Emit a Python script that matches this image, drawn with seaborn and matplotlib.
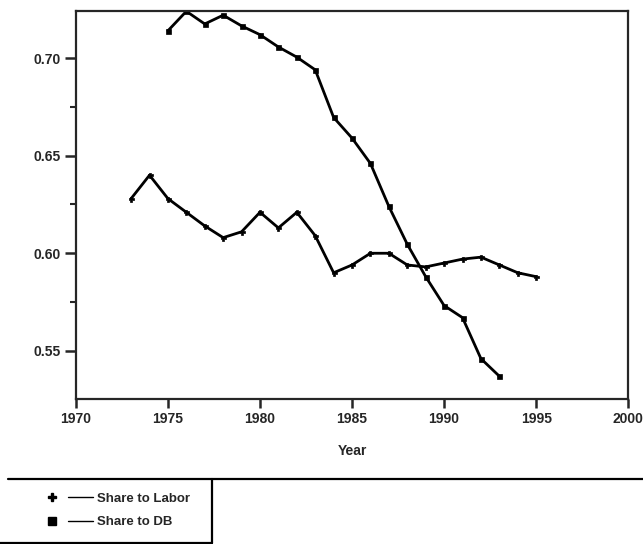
import numpy as np
import pandas as pd
import matplotlib
matplotlib.use("Agg")
import matplotlib.pyplot as plt
from matplotlib.lines import Line2D
from matplotlib.legend_handler import HandlerTuple
from matplotlib.ticker import MultipleLocator, FormatStrFormatter
import seaborn as sns

# data
labor_years = list(range(1973, 1996))
labor_share = [0.628, 0.640, 0.628, 0.621, 0.614, 0.608, 0.611, 0.621, 0.613,
               0.621, 0.609, 0.590, 0.594, 0.600, 0.600, 0.594, 0.593, 0.595,
               0.597, 0.598, 0.594, 0.590, 0.588]
db_years = list(range(1975, 1994))
db_share = [0.714, 0.724, 0.7175, 0.722, 0.7165, 0.712, 0.7057, 0.7005, 0.694,
            0.6696, 0.659, 0.646, 0.624, 0.6046, 0.588, 0.5732, 0.567, 0.546, 0.537]
series_names = ["Share to Labor", "Share to DB"]
x_ticks = list(range(1970, 2001, 5))

df = pd.concat([
    pd.DataFrame({"Year": labor_years, "Share": labor_share, "Series": series_names[0]}),
    pd.DataFrame({"Year": db_years, "Share": db_share, "Series": series_names[1]}),
])

sns.set_style("ticks")
plt.rcParams["font.family"] = ["Liberation Sans", "DejaVu Sans"]
plt.rcParams["font.weight"] = "bold"

fig = plt.figure(figsize=(6.43, 5.44), dpi=100)
ax = fig.add_axes([0.118, 0.2665, 0.859, 0.7135])

sns.lineplot(data=df, x="Year", y="Share", hue="Series", style="Series",
             palette=["black", "black"], markers={"Share to Labor": "P", "Share to DB": "s"},
             dashes=False, markersize=3.6, linewidth=2.0, legend=False, ax=ax,
             markeredgecolor="black", markeredgewidth=0.5)

ax.set_xlim(1970, 2000)
ax.set_ylim(0.5253, 0.7242)
ax.set_xticks(x_ticks)
ax.yaxis.set_major_locator(MultipleLocator(0.05))
ax.yaxis.set_minor_locator(MultipleLocator(0.025))
ax.yaxis.set_major_formatter(FormatStrFormatter("%.2f"))
ax.tick_params(axis="x", which="major", length=6.5, width=1.8, labelsize=10, pad=3)
ax.tick_params(axis="y", which="major", length=8, width=1.8, labelsize=10, pad=3)
ax.tick_params(axis="y", which="minor", length=4, width=1.5)
for lab in ax.get_xticklabels() + ax.get_yticklabels():
    lab.set_fontweight("bold")
ax.set_xlabel("Year", fontsize=10, fontweight="bold", labelpad=13)
ax.set_ylabel("")
for sp in ax.spines.values():
    sp.set_visible(True)
    sp.set_linewidth(1.6)

# legend box below the plot
W, H = 643, 544
def fx(px):
    return px / W
def fy(py):
    return 1 - py / H

fig.add_artist(Line2D([fx(8), fx(643)], [fy(479), fy(479)], color="black", lw=1.6))
fig.add_artist(Line2D([fx(212), fx(212)], [fy(479), fy(543)], color="black", lw=1.6))
fig.add_artist(Line2D([fx(0), fx(212)], [fy(543), fy(543)], color="black", lw=1.6))

h_labor = (Line2D([], [], marker="P", color="black", ls="none", markersize=6),
           Line2D([], [], color="black", lw=1.0))
h_db = (Line2D([], [], marker="s", color="black", ls="none", markersize=5.5),
        Line2D([], [], color="black", lw=1.0))
fig.legend([h_labor, h_db], series_names,
           handler_map={tuple: HandlerTuple(ndivide=None, pad=0.27)},
           loc="center left", bbox_to_anchor=(fx(28), fy(510.5)),
           frameon=False, handlelength=4.05, handletextpad=0.3,
           prop={"size": 9.5, "weight": "bold"}, labelspacing=0.85)

fig.savefig("out.png", dpi=100)
